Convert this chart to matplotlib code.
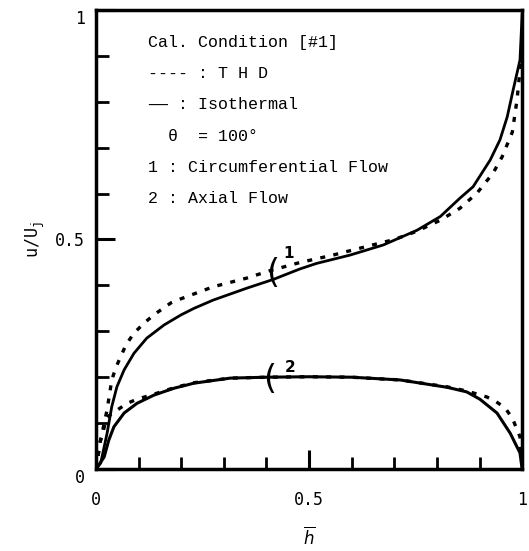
import matplotlib.pyplot as plt
import numpy as np

# curve 1: circumferential flow
x_circ_iso = [0.0, 0.011, 0.026, 0.037, 0.049, 0.066, 0.089, 0.119, 0.16, 0.2, 0.23, 0.275,
              0.354, 0.416, 0.479, 0.518, 0.596, 0.674, 0.753, 0.808, 0.854, 0.885, 0.925,
              0.948, 0.965, 0.979, 0.995, 1.0]
y_circ_iso = [0.0, 0.013, 0.078, 0.136, 0.179, 0.216, 0.252, 0.285, 0.314, 0.336, 0.35, 0.368,
              0.394, 0.413, 0.436, 0.448, 0.466, 0.488, 0.52, 0.55, 0.59, 0.615, 0.673,
              0.717, 0.767, 0.826, 0.891, 0.99]
x_circ_thd = [0.0, 0.01, 0.026, 0.037, 0.047, 0.07, 0.089, 0.113, 0.136, 0.176, 0.197, 0.275,
              0.354, 0.408, 0.479, 0.556, 0.636, 0.7, 0.753, 0.808, 0.854, 0.894, 0.913,
              0.932, 0.953, 0.977, 0.988, 0.995, 1.0]
y_circ_thd = [0.0, 0.06, 0.129, 0.194, 0.222, 0.27, 0.296, 0.318, 0.336, 0.362, 0.37, 0.397,
              0.416, 0.432, 0.45, 0.466, 0.485, 0.5, 0.518, 0.542, 0.568, 0.601, 0.623,
              0.645, 0.68, 0.734, 0.804, 0.869, 0.93]

# curve 2: axial flow
x_ax_iso = [0.0, 0.019, 0.03, 0.042, 0.066, 0.096, 0.136, 0.183, 0.23, 0.315, 0.401, 0.5,
            0.6, 0.714, 0.824, 0.87, 0.901, 0.941, 0.972, 0.995, 1.0]
y_ax_iso = [0.0, 0.026, 0.063, 0.092, 0.122, 0.143, 0.161, 0.176, 0.187, 0.198, 0.2, 0.201,
            0.2, 0.194, 0.178, 0.168, 0.152, 0.122, 0.078, 0.035, 0.0]
x_ax_thd = [0.0, 0.01, 0.026, 0.049, 0.073, 0.096, 0.129, 0.183, 0.23, 0.315, 0.401, 0.5,
            0.6, 0.714, 0.824, 0.87, 0.917, 0.937, 0.96, 0.977, 0.995, 1.0]
y_ax_thd = [0.0, 0.06, 0.113, 0.128, 0.143, 0.152, 0.161, 0.177, 0.188, 0.198, 0.2, 0.201,
            0.2, 0.194, 0.179, 0.17, 0.157, 0.148, 0.133, 0.111, 0.07, 0.0]

legend_lines = ["Cal. Condition [#1]",
                "---- : T H D",
                "\u2014\u2014 : Isothermal",
                "  \u03b8  = 100\u00b0",
                "1 : Circumferential Flow",
                "2 : Axial Flow"]

fig = plt.figure(figsize=(5.29, 5.51), dpi=100)
ax = fig.add_axes([0.1815, 0.1488, 0.8055, 0.8331])

ax.plot(x_circ_iso, y_circ_iso, color="black", lw=2)
ax.plot(x_circ_thd, y_circ_thd, color="black", lw=2.4, linestyle=(0, (1.5, 2.5)))
ax.plot(x_ax_iso, y_ax_iso, color="black", lw=2.2)
ax.plot(x_ax_thd, y_ax_thd, color="black", lw=2.4, linestyle=(0, (1.5, 2.5)))

ax.set_xlim(0, 1)
ax.set_ylim(0, 1)
for s in ax.spines.values():
    s.set_linewidth(2.5)

ax.set_xticks([0, 0.5, 1])
ax.set_xticklabels(["0", "0.5", "1"])
ax.set_xticks(np.arange(0.1, 1.0, 0.1), minor=True)
ax.set_yticks([0, 0.5, 1])
ax.set_yticklabels(["0", "0.5", "1"])
ax.set_yticks(np.arange(0.1, 1.0, 0.1), minor=True)
ax.tick_params(axis="both", which="major", direction="in", length=14, width=2.2,
               labelsize=12)
ax.tick_params(axis="x", which="major", pad=16)
ax.tick_params(axis="y", which="major", pad=8)
ax.tick_params(axis="both", which="minor", direction="in", length=9, width=2)
for lab in ax.get_xticklabels() + ax.get_yticklabels():
    lab.set_family("DejaVu Sans Mono")
ylabs = ax.get_yticklabels()
ylabs[0].set_verticalalignment("top")
ylabs[2].set_verticalalignment("top")

ax.set_ylabel("u/U$_\\mathregular{j}$", fontsize=12, family="DejaVu Sans Mono", labelpad=6)
ax.set_xlabel("$\\overline{h}$", fontsize=12, labelpad=12)

for i, line in enumerate(legend_lines):
    ax.text(0.122, 0.929 - i * 0.068, line, transform=ax.transAxes, fontsize=12,
            family="Liberation Mono", va="center", ha="left")

ax.text(0.415, 0.425, "(", fontsize=24, ha="center", va="center")
ax.text(0.451, 0.47, "1", fontsize=11, fontweight="bold", ha="center", va="center")
ax.text(0.408, 0.195, "(", fontsize=24, ha="center", va="center")
ax.text(0.455, 0.222, "2", fontsize=11, fontweight="bold", ha="center", va="center")

fig.savefig("out.png", dpi=100)
